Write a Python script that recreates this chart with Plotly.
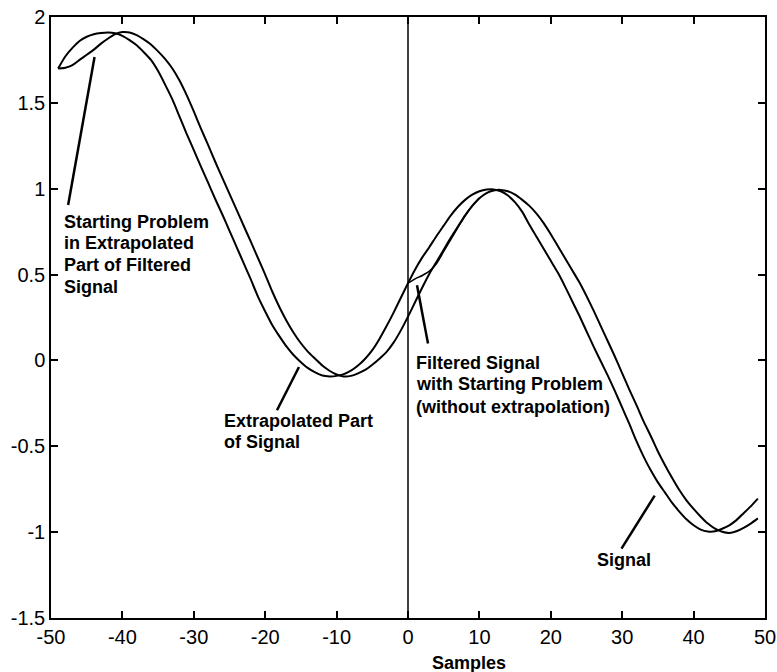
import plotly.graph_objects as go

# ---------------- data ----------------
samples = list(range(-49, 50))

signal = [
    1.70, 1.77, 1.82, 1.86, 1.885, 1.90, 1.907, 1.91, 1.905, 1.89,      # -49..-40
    1.865, 1.835, 1.795, 1.75, 1.685, 1.605, 1.52, 1.42, 1.32, 1.225,   # -39..-30
    1.128, 1.035, 0.94, 0.85, 0.755, 0.66, 0.565, 0.47, 0.37, 0.285,    # -29..-20
    0.205, 0.14, 0.08, 0.03, -0.01, -0.045, -0.07, -0.088, -0.093, -0.09,  # -19..-10
    -0.08, -0.06, -0.03, 0.01, 0.06, 0.125, 0.20, 0.28, 0.365,          # -9..-1
    0.45,                                                               # 0
    0.53, 0.60, 0.661, 0.725, 0.785, 0.845, 0.895, 0.935, 0.965, 0.985, # 1..10
    0.995, 0.996, 0.985, 0.96, 0.92, 0.865, 0.79, 0.72, 0.65, 0.58,     # 11..20
    0.51, 0.43, 0.345, 0.26, 0.17, 0.08, -0.005, -0.09, -0.18, -0.275,  # 21..30
    -0.37, -0.47, -0.56, -0.64, -0.71, -0.77, -0.83, -0.88, -0.925, -0.96,  # 31..40
    -0.985, -0.996, -0.995, -0.98, -0.96, -0.93, -0.89, -0.85, -0.805,  # 41..49
]

filtered = [
    1.70, 1.705, 1.72, 1.75, 1.78, 1.81, 1.845, 1.875, 1.90, 1.912,     # -49..-40
    1.91, 1.895, 1.87, 1.84, 1.80, 1.755, 1.70, 1.63, 1.545, 1.45,      # -39..-30
    1.35, 1.255, 1.157, 1.063, 0.97, 0.877, 0.783, 0.69, 0.595, 0.50,   # -29..-20
    0.40, 0.31, 0.23, 0.16, 0.10, 0.05, 0.01, -0.03, -0.06, -0.082,     # -19..-10
    -0.093, -0.09, -0.075, -0.055, -0.025, 0.01, 0.05, 0.105, 0.175,    # -9..-1
    0.255,                                                              # 0
    0.34, 0.425, 0.505, 0.575, 0.645, 0.715, 0.78, 0.845, 0.90, 0.945,  # 1..10
    0.975, 0.99, 0.993, 0.985, 0.965, 0.935, 0.90, 0.855, 0.80, 0.735,  # 11..20
    0.665, 0.595, 0.525, 0.455, 0.375, 0.29, 0.20, 0.11, 0.02, -0.075,  # 21..30
    -0.17, -0.26, -0.355, -0.44, -0.53, -0.61, -0.685, -0.755, -0.815, -0.865,  # 31..40
    -0.91, -0.95, -0.98, -0.998, -1.005, -0.995, -0.975, -0.95, -0.92,  # 41..49
]

noextrap_samples = [0, 1, 2, 3, 4, 5, 6, 7, 8, 9, 10]
noextrap_filtered = [0.45, 0.475, 0.495, 0.52, 0.565, 0.635, 0.705, 0.775, 0.842, 0.90, 0.945]

x_tickvals = [-50, -40, -30, -20, -10, 0, 10, 20, 30, 40, 50]
x_ticktext = ["-50", "-40", "-30", "-20", "-10", "0", "10", "20", "30", "40", "50"]
y_tickvals = [-1.5, -1, -0.5, 0, 0.5, 1, 1.5, 2]
y_ticktext = ["-1.5", "-1", "-0.5", "0", "0.5", "1", "1.5", "2"]

assert len(signal) == len(samples) and len(filtered) == len(samples)

FONT = "Liberation Sans, Arial, Helvetica, sans-serif"
LW = 2.0

fig = go.Figure()
fig.add_trace(go.Scatter(x=samples, y=signal, mode="lines",
                         line=dict(color="black", width=LW, shape="spline", smoothing=0.6),
                         name="Signal"))
fig.add_trace(go.Scatter(x=samples, y=filtered, mode="lines",
                         line=dict(color="black", width=LW, shape="spline", smoothing=0.6),
                         name="Filtered"))
fig.add_trace(go.Scatter(x=noextrap_samples, y=noextrap_filtered, mode="lines",
                         line=dict(color="black", width=1.6, shape="spline", smoothing=0.6),
                         name="Filtered (no extrapolation)"))

# vertical line at sample 0
fig.add_shape(type="line", x0=0, x1=0, y0=-1.5, y1=2, xref="x", yref="y",
              line=dict(color="black", width=1.5))

# pointer lines
pointers = [
    ((-47.6, 0.905), (-43.9, 1.767)),
    ((-18.35, -0.290), (-15.27, -0.038)),
    ((2.8, 0.098), (1.26, 0.438)),
    ((29.9, -1.096), (34.55, -0.787)),
]
for (xa, ya), (xb, yb) in pointers:
    fig.add_shape(type="line", x0=xa, y0=ya, x1=xb, y1=yb, xref="x", yref="y",
                  line=dict(color="black", width=2.5))

# annotation text, one line per annotation (pixel y -> data y)
def py2y(py):
    return (360.2 - py) / 171.6

def px2x(px):
    return (px - 408.3) / 7.14

labels = [
    (62, [("Starting Problem", 222), ("in Extrapolated", 243), ("Part of Filtered", 265), ("Signal", 287)]),
    (222.7, [("Extrapolated Part", 420.7), ("of Signal", 441.7)]),
    (414, [("Filtered Signal", 362.3), ("with Starting Problem", 383.3), ("(without extrapolation)", 406.7)]),
    (595, [("Signal", 560)]),
]
for px, lines in labels:
    for txt, py in lines:
        fig.add_annotation(x=px2x(px), y=py2y(py), xref="x", yref="y",
                           text="<b>" + txt + "</b>", showarrow=False,
                           xanchor="left", yanchor="middle", align="left",
                           font=dict(family=FONT, size=18, color="black"))

# x-axis title
fig.add_annotation(x=(469 - 51.3) / 713.7, y=(617.7 - 662.7) / 600.7,
                   xref="paper", yref="paper", text="<b>Samples</b>", showarrow=False,
                   xanchor="center", yanchor="middle",
                   font=dict(family=FONT, size=18, color="black"))

axis_common = dict(showgrid=False, zeroline=False, showline=True, linecolor="black",
                   linewidth=1.5, mirror="ticks", ticks="inside", ticklen=7,
                   tickwidth=1.5, tickcolor="black", automargin=False,
                   tickfont=dict(family=FONT, size=20, color="black"))

fig.update_xaxes(range=[-50, 50], tickvals=x_tickvals, ticktext=x_ticktext, **axis_common)
fig.update_yaxes(range=[-1.5, 2], tickvals=y_tickvals, ticktext=y_ticktext, **axis_common)

fig.update_layout(width=777, height=672, showlegend=False,
                  plot_bgcolor="white", paper_bgcolor="white",
                  margin=dict(l=51, r=12, t=17, b=54, pad=0))

fig.write_html("out.html")
